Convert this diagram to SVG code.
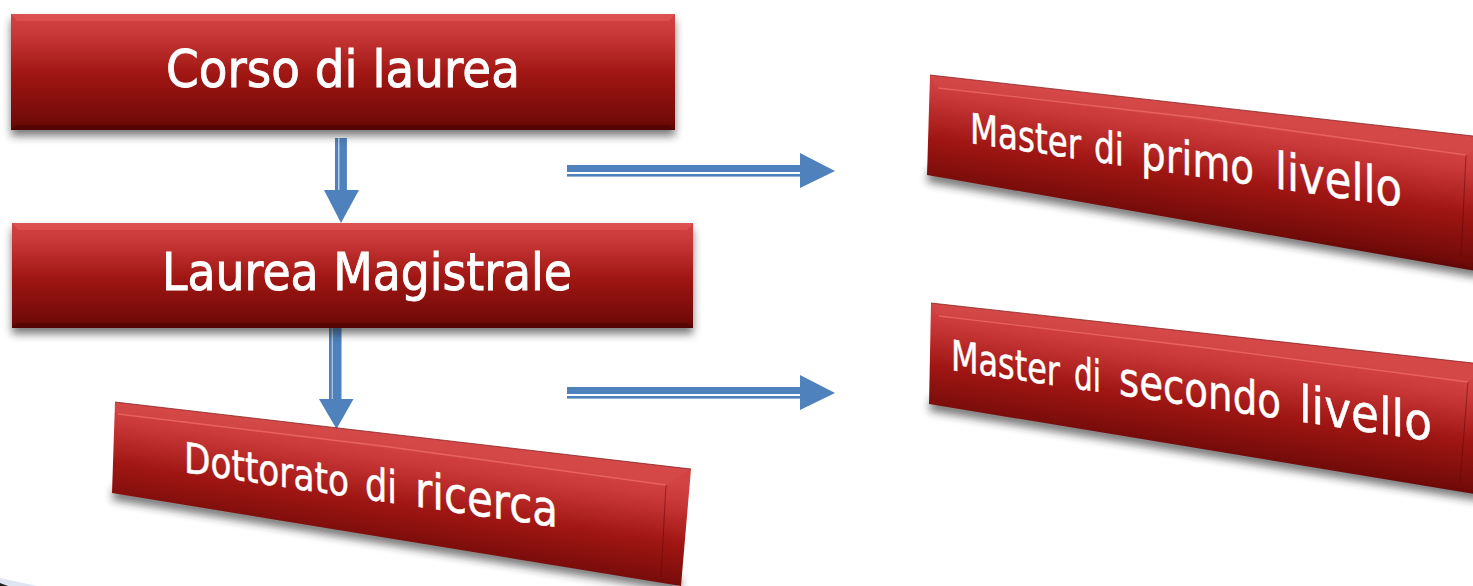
<svg xmlns="http://www.w3.org/2000/svg" xmlns:xlink="http://www.w3.org/1999/xlink" width="1473" height="586" viewBox="0 0 1473 586">
<style>
.t{font-family:"DejaVu Sans","Liberation Sans",sans-serif;fill:#fff;stroke:#fff;stroke-width:.5}
.b{stroke-width:.9}
.a{fill:#4f81bd}
.sh{fill:#222;opacity:.6;filter:url(#blur)}
.top{fill:#ff8a80;opacity:.22}
.topl{fill:#fff;opacity:.03}
.bot{fill:#300;opacity:.3}
.hl{fill:none;stroke:#ee6a62;stroke-width:1.3;opacity:.8}
.ln{fill:none;stroke:#5a0808;stroke-width:1;opacity:.5}
.e{fill:none;stroke:#7a1010;stroke-width:1;opacity:.7}
</style>
<defs>
<filter id="blur" x="-5%" y="-30%" width="110%" height="170%"><feGaussianBlur stdDeviation="4"/></filter>
<linearGradient id="g">
<stop offset="0" stop-color="#d44343"/><stop offset=".15" stop-color="#cb3a3a"/><stop offset=".52" stop-color="#a01613"/><stop offset=".92" stop-color="#720b09"/><stop offset="1" stop-color="#5c0605"/>
</linearGradient>
<linearGradient id="g1" xlink:href="#g" x1="0" y1="0" x2="0" y2="1"/>
<linearGradient id="gd" xlink:href="#g" gradientUnits="userSpaceOnUse" x1="0" y1="0" x2="0" y2="118" gradientTransform="matrix(1 .14 0 1 115 403)"/>
<linearGradient id="gp" xlink:href="#g" gradientUnits="userSpaceOnUse" x1="0" y1="0" x2="0" y2="120" gradientTransform="matrix(1 .14 0 1 930 75)"/>
<linearGradient id="gs" xlink:href="#g" gradientUnits="userSpaceOnUse" x1="0" y1="0" x2="0" y2="120" gradientTransform="matrix(1 .14 0 1 930 303)"/>
</defs>

<g id="connectors">
<g id="arrow-corso-laurea-magistrale">
<rect class="a" x="335" y="138" width="3.4" height="53"/><rect class="a" x="339.3" y="138" width="7.6" height="53"/><path class="a" d="M324 190H359L341 223Z"/>
</g>
<g id="arrow-magistrale-dottorato">
<rect class="a" x="329" y="328" width="2.8" height="72"/><rect class="a" x="332.5" y="328" width="9" height="72"/><path class="a" d="M319 399H353.5L336.5 429Z"/>
</g>
<g id="arrow-master-primo">
<rect class="a" x="567" y="165" width="234" height="7"/><rect class="a" x="567" y="174" width="234" height="2.6"/><path class="a" d="M800 153L835 171L800 188Z"/>
</g>
<g id="arrow-master-secondo">
<rect class="a" x="567" y="387" width="234" height="7"/><rect class="a" x="567" y="396" width="234" height="2.6"/><path class="a" d="M800 375L835 393L800 410Z"/>
</g>
</g>

<g id="node-corso">
<rect class="sh" x="11" y="20" width="664" height="116"/>
<rect x="11" y="14" width="664" height="116" fill="url(#g1)"/>
<path class="top" d="M11 14H675L669 21H17Z"/>
<path class="bot" d="M11 130H675L669 125H17Z"/>
<text class="t b" x="166" y="87" font-size="51" textLength="354" lengthAdjust="spacingAndGlyphs">Corso di laurea</text>
</g>

<g id="node-magistrale">
<rect class="sh" x="12" y="229" width="681" height="105"/>
<rect x="12" y="223" width="681" height="105" fill="url(#g1)"/>
<path class="top" d="M12 223H693L687 230H18Z"/>
<path class="bot" d="M12 328H693L687 323H18Z"/>
<text class="t b" x="162" y="290" font-size="51" textLength="410" lengthAdjust="spacingAndGlyphs">Laurea Magistrale</text>
</g>

<g id="node-dottorato">
<path class="sh" d="M114 487L681 578L680 592L112 500Z"/>
<path d="M115 402L691 469L681 586L112 493Z" fill="url(#gd)"/>
<path class="topl" d="M115 402L691 469L666 485L115 413Z"/>
<path class="hl" d="M118 414L390 447L666 485"/>
<path class="ln" d="M666 485L661 577"/>
<path class="e" d="M115 402L691 469"/>
<text class="t" transform="matrix(1 .147 0 1 182 472)"><tspan x="2" font-size="42" textLength="165" lengthAdjust="spacingAndGlyphs">Dottorato</tspan> <tspan x="183" font-size="45" textLength="32" lengthAdjust="spacingAndGlyphs">di</tspan> <tspan x="233" font-size="49" textLength="143" lengthAdjust="spacingAndGlyphs">ricerca</tspan></text>
</g>

<g id="node-master-primo">
<path class="sh" d="M929 169L1481 264L1480 278L927 182Z"/>
<path d="M930 75L1491 138L1481 272L927 175Z" fill="url(#gp)"/>
<path class="topl" d="M930 75L1491 138L1466 155L936 87Z"/>
<path class="hl" d="M938 88L1200 118L1466 155"/>
<path class="ln" d="M1466 155L1461 258"/>
<path class="e" d="M930 75L1491 138"/>
<text class="t" transform="matrix(1 .148 0 1 970 143)"><tspan x="0" font-size="42" textLength="111" lengthAdjust="spacingAndGlyphs">Master</tspan> <tspan x="124" font-size="44" textLength="30" lengthAdjust="spacingAndGlyphs">di</tspan> <tspan x="171" font-size="47" textLength="113" lengthAdjust="spacingAndGlyphs">primo</tspan> <tspan x="305" font-size="51" textLength="127" lengthAdjust="spacingAndGlyphs">livello</tspan></text>
</g>

<g id="node-master-secondo">
<path class="sh" d="M931 398L1481 487L1480 501L929 411Z"/>
<path d="M931 303L1491 365L1481 495L929 404Z" fill="url(#gs)"/>
<path class="topl" d="M931 303L1491 365L1468 382L937 315Z"/>
<path class="hl" d="M939 316L1200 347L1468 382"/>
<path class="ln" d="M1468 382L1460 483"/>
<path class="e" d="M931 303L1491 365"/>
<text class="t" transform="matrix(1 .148 0 1 951 370)"><tspan x="0" font-size="42" textLength="109" lengthAdjust="spacingAndGlyphs">Master</tspan> <tspan x="123" font-size="44" textLength="27" lengthAdjust="spacingAndGlyphs">di</tspan> <tspan x="168" font-size="47" textLength="162" lengthAdjust="spacingAndGlyphs">secondo</tspan> <tspan x="348" font-size="51" textLength="133" lengthAdjust="spacingAndGlyphs">livello</tspan></text>
</g>

<path d="M0 578L37 586H0Z" fill="#dfe6f2"/>
<path d="M0 583L8 586H0Z" fill="#222"/>
</svg>
